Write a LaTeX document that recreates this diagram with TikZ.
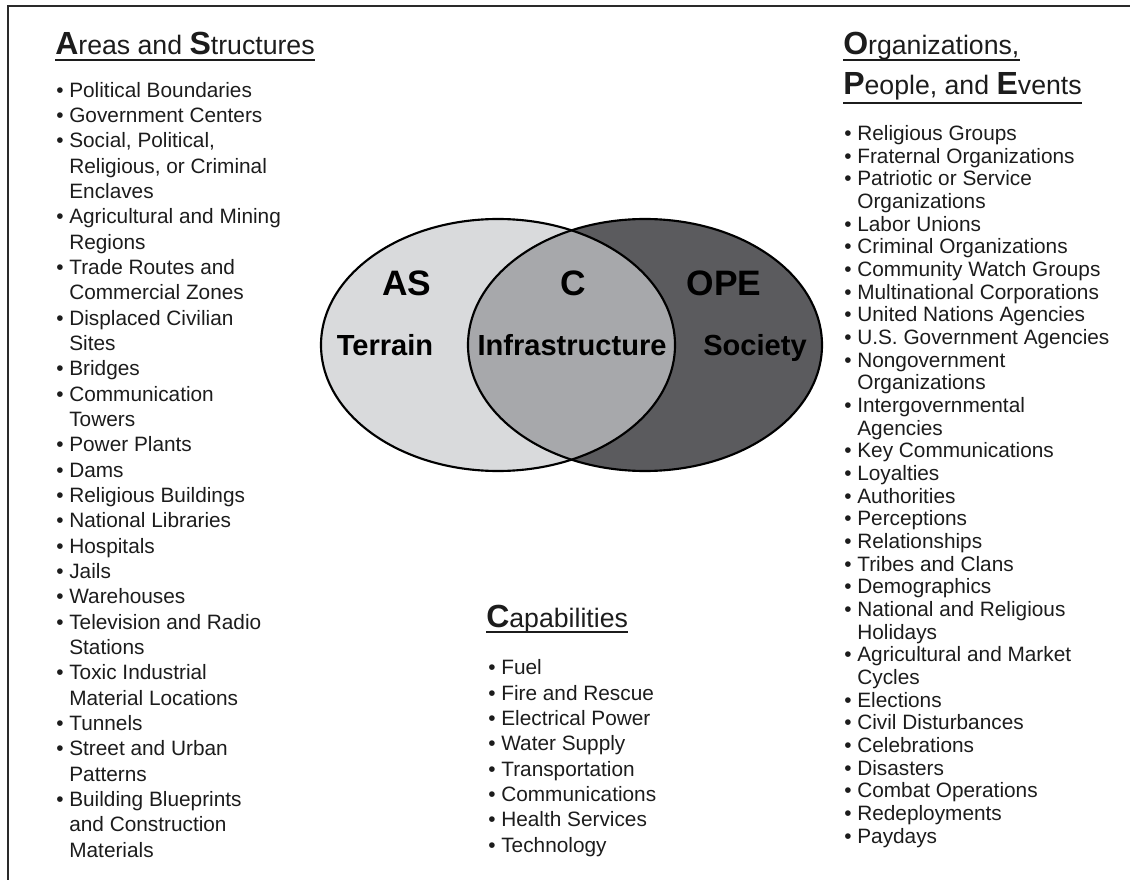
\documentclass[tikz,border=0pt]{standalone}
\usepackage{fontspec}
\setmainfont{Liberation Sans}
\usetikzlibrary{positioning,calc}
\definecolor{terrainfill}{HTML}{D9DADC}
\definecolor{infrafill}{HTML}{A7A8AB}
\definecolor{societyfill}{HTML}{5B5B5E}
\definecolor{textdark}{HTML}{1C1C1C}
\definecolor{framegray}{HTML}{2A2A2A}
\tikzset{
  heading/.style={anchor=base west, inner sep=0pt, font=\fontsize{20}{24}\selectfont, text=textdark},
  listbox/.style={anchor=base west, inner sep=0pt, align=left, font=\fontsize{15.6}{19}\selectfont, text=textdark},
  tightlist/.style={listbox, font=\fontsize{15.6}{17}\selectfont},
  setlabel/.style={anchor=base, inner sep=0pt, font=\fontsize{26.5}{30}\selectfont\bfseries, text=black},
  domainlabel/.style={anchor=base, inner sep=0pt, font=\fontsize{21.8}{26}\selectfont\bfseries, text=black},
  uline/.style={line width=1.5pt, draw=textdark},
  venn/.style={line width=1.6pt, draw=black},
  frameline/.style={line width=1.9pt, draw=framegray}
}
\newcommand{\capletter}[1]{{\fontsize{24}{24}\selectfont\bfseries #1}}
\newcommand{\itm}{\textbullet\ }
\newcommand{\cont}{\hphantom{\textbullet\ }}

\begin{document}
\begin{tikzpicture}[x=0.75pt,y=-0.75pt]
\useasboundingbox (0,0) rectangle (1130,880);
\draw[frameline] (8,880) -- (8,6) -- (1130,6);
\coordinate (terrainc) at (498,345);
\coordinate (societyc) at (645,345);
\fill[terrainfill] (terrainc) ellipse [x radius=177, y radius=126];
\fill[societyfill] (societyc) ellipse [x radius=177, y radius=126];
\begin{scope}
  \clip (terrainc) ellipse [x radius=177, y radius=126];
  \fill[infrafill] (societyc) ellipse [x radius=177, y radius=126];
\end{scope}
\draw[venn] (terrainc) ellipse [x radius=177, y radius=126];
\draw[venn] (societyc) ellipse [x radius=177, y radius=126];
\node[setlabel] (aslbl) at (407,296) {AS};
\node[setlabel] (clbl) at (573,296) {C};
\node[setlabel] (opelbl) at (724,296) {OPE};
\node[domainlabel] (terrain) at (385,355) {Terrain};
\node[domainlabel] (infra) at (572,355) {Infrastructure};
\node[domainlabel] (society) at (755,355) {Society};
\node[heading] (asttl) at (55,55) {\capletter{A}reas and \capletter{S}tructures};
\draw[uline] ($(asttl.base west)+(0,5)$) -- ($(asttl.base east)+(0,5)$);
\node[heading] (opettl) at (843,55) {\capletter{O}rganizations,};
\draw[uline] ($(opettl.base west)+(0,5)$) -- ($(opettl.base east)+(0,5)$);
\node[heading] (opettlb) at (843,95) {\capletter{P}eople, and \capletter{E}vents};
\draw[uline] ($(opettlb.base west)+(0,8)$) -- ($(opettlb.base east)+(0,8)$);
\node[heading] (cttl) at (486,627) {\capletter{C}apabilities};
\draw[uline] ($(cttl.base west)+(0,5)$) -- ($(cttl.base east)+(0,5)$);
\node[listbox] (aslist) at (56,857) {\itm Political Boundaries\\
  \itm Government Centers\\
  \itm Social, Political,\\
  \cont Religious, or Criminal\\
  \cont Enclaves\\
  \itm Agricultural and Mining\\
  \cont Regions\\
  \itm Trade Routes and\\
  \cont Commercial Zones\\
  \itm Displaced Civilian\\
  \cont Sites\\
  \itm Bridges\\
  \itm Communication\\
  \cont Towers\\
  \itm Power Plants\\
  \itm Dams\\
  \itm Religious Buildings\\
  \itm National Libraries\\
  \itm Hospitals\\
  \itm Jails\\
  \itm Warehouses\\
  \itm Television and Radio\\
  \cont Stations\\
  \itm Toxic Industrial\\
  \cont Material Locations\\
  \itm Tunnels\\
  \itm Street and Urban\\
  \cont Patterns\\
  \itm Building Blueprints\\
  \cont and Construction\\
  \cont Materials};
\node[tightlist] (opelist) at (844,843) {\itm Religious Groups\\
  \itm Fraternal Organizations\\
  \itm Patriotic or Service\\
  \cont Organizations\\
  \itm Labor Unions\\
  \itm Criminal Organizations\\
  \itm Community Watch Groups\\
  \itm Multinational Corporations\\
  \itm United Nations Agencies\\
  \itm U.S. Government Agencies\\
  \itm Nongovernment\\
  \cont Organizations\\
  \itm Intergovernmental\\
  \cont Agencies\\
  \itm Key Communications\\
  \itm Loyalties\\
  \itm Authorities\\
  \itm Perceptions\\
  \itm Relationships\\
  \itm Tribes and Clans\\
  \itm Demographics\\
  \itm National and Religious\\
  \cont Holidays\\
  \itm Agricultural and Market\\
  \cont Cycles\\
  \itm Elections\\
  \itm Civil Disturbances\\
  \itm Celebrations\\
  \itm Disasters\\
  \itm Combat Operations\\
  \itm Redeployments\\
  \itm Paydays};
\node[listbox] (clist) at (488,852) {\itm Fuel\\
  \itm Fire and Rescue\\
  \itm Electrical Power\\
  \itm Water Supply\\
  \itm Transportation\\
  \itm Communications\\
  \itm Health Services\\
  \itm Technology};
\end{tikzpicture}
\end{document}
